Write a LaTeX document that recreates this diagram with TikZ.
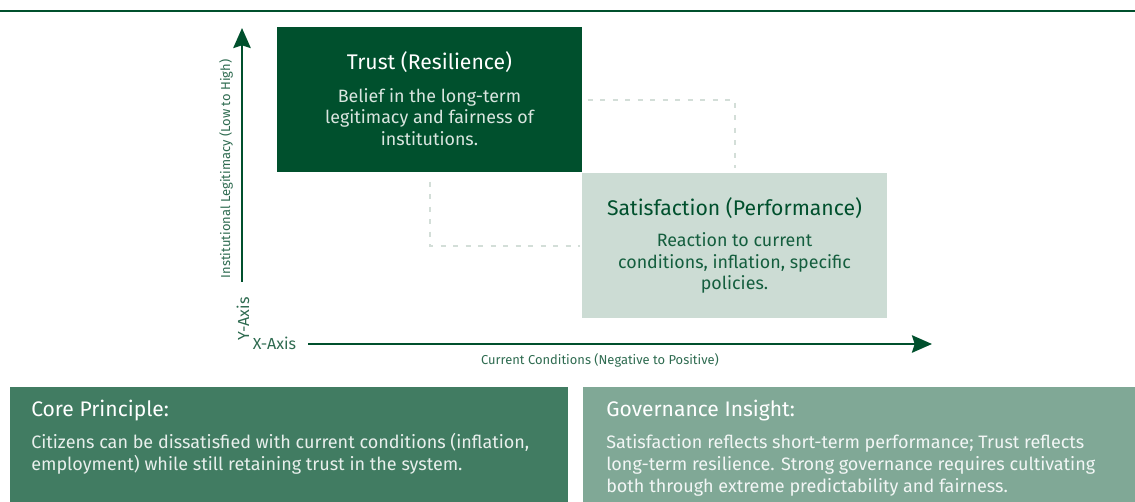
\documentclass[tikz,border=0pt]{standalone}
\usepackage{fontspec}
\setmainfont{Fira Sans}
\usetikzlibrary{arrows.meta, positioning, calc}
\definecolor{trustgreen}{HTML}{00502D}
\definecolor{coregreen}{HTML}{417C62}
\definecolor{insightgreen}{HTML}{80A896}
\definecolor{satgreen}{HTML}{CCDCD4}
\definecolor{dashgray}{HTML}{D3DED8}
\definecolor{labelgreen}{HTML}{2E6B50}
\newdimen\pxu
\pxu=0.75pt

\tikzset{
    panel/.style={inner sep=0pt, anchor=north west},
    boxtitle/.style={font=\fontsize{15.9}{18}\selectfont, inner sep=0pt},
    boxbody/.style={font=\fontsize{13.4}{16.1}\selectfont, align=center, inner sep=0pt},
    notetitle/.style={font=\fontsize{15.8}{18}\selectfont, white, inner sep=0pt, anchor=west},
    notebody/.style={font=\fontsize{13.5}{16.5}\selectfont, align=left, inner sep=0pt, anchor=west},
    axislabel/.style={font=\fontsize{9.7}{11}\selectfont, labelgreen, inner sep=0pt},
    axisname/.style={font=\fontsize{12}{14}\selectfont, labelgreen, inner sep=0pt},
    guide/.style={dashgray, line width=2.5\pxu, dash pattern=on 5\pxu off 7.5\pxu},
    axisline/.style={trustgreen, line width=2.5\pxu,
        -{Stealth[length=15pt, width=13pt, inset=2pt]}}
}

\begin{document}
\begin{tikzpicture}[x=0.75pt, y=-0.75pt]
    \useasboundingbox (0,0) rectangle (1135,502);

    % Top rule
    \draw[trustgreen, line width=2\pxu] (0,11) -- (1135,11);

    % Axes
    \coordinate (yfoot) at (242,282);
    \coordinate (ytop) at (242,28);
    \coordinate (xfoot) at (308,344);
    \coordinate (xtip) at (932,344);
    \draw[axisline] (yfoot) -- (ytop);
    \draw[axisline] (xfoot) -- (xtip);
    \node[axislabel, rotate=90] (ylab) at (226,169) {Institutional Legitimacy (Low to High)};
    \node[axislabel] (xlab) at (600,360) {Current Conditions (Negative to Positive)};
    \node[axisname, rotate=90] (yname) at (243,319) {Y-Axis};
    \node[axisname] (xname) at (274.5,343) {X-Axis};

    % Trust box
    \node[panel, fill=trustgreen, minimum width=305\pxu, minimum height=145\pxu] (trust) at (277,27) {};
    \node[boxtitle, white] (trusttitle) at (429.5,62) {Trust (Resilience)};
    \node[boxbody, white!85!trustgreen] (trustbody) at (429.5,117)
        {Belief in the long-term\\legitimacy and fairness of\\institutions.};

    % Satisfaction box
    \node[panel, fill=satgreen, minimum width=305\pxu, minimum height=145\pxu] (sat) at (582,173) {};
    \node[boxtitle, trustgreen] (sattitle) at (734.5,208) {Satisfaction (Performance)};
    \node[boxbody, trustgreen!90!satgreen] (satbody) at (734.5,263)
        {Reaction to current\\conditions, inflation, specific\\policies.};

    % Dashed guides between the boxes
    \draw[guide] ([xshift=5\pxu]trust.east) -| ([yshift=5\pxu]sat.north);
    \draw[guide] ([yshift=-9\pxu]trust.south) |- ([xshift=-2\pxu]sat.west);

    % Bottom notes
    \node[panel, fill=coregreen, minimum width=558\pxu, minimum height=115\pxu] (core) at (10,387) {};
    \node[notetitle] (coretitle) at (31,411) {Core Principle:};
    \node[notebody, white!88!coregreen] (corebody) at (31,454)
        {Citizens can be dissatisfied with current conditions (inflation,\\employment) while still retaining trust in the system.};

    \node[panel, fill=insightgreen, minimum width=552\pxu, minimum height=115\pxu] (insight) at (583,387) {};
    \node[notetitle] (insighttitle) at (606,411) {Governance Insight:};
    \node[notebody, white!90!insightgreen] (insightbody) at (606,465)
        {Satisfaction reflects short-term performance; Trust reflects\\long-term resilience. Strong governance requires cultivating\\both through extreme predictability and fairness.};
\end{tikzpicture}
\end{document}
